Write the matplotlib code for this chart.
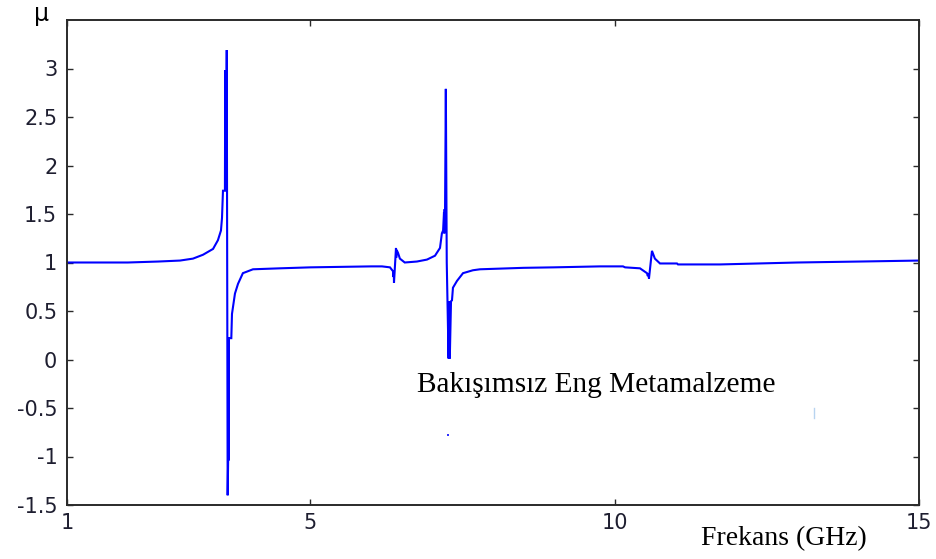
import matplotlib
matplotlib.use("Agg")
import matplotlib.pyplot as plt

plt.rcParams['axes.unicode_minus'] = False

# Frequency (GHz) and permeability
freq = [1.0, 1.5, 2.0, 2.5, 2.857, 3.07, 3.235, 3.40, 3.48, 3.53, 3.547, 3.563,
        3.595, 3.600, 3.605, 3.610, 3.615, 3.625, 3.640, 3.648, 3.652, 3.656,
        3.66, 3.70, 3.711, 3.76, 3.81, 3.89, 4.056, 4.5, 5.0, 5.5, 6.0,
        6.176, 6.307, 6.357, 6.365, 6.37, 6.373, 6.406, 6.41, 6.415, 6.439,
        6.47, 6.55, 6.75, 6.915, 7.047, 7.129, 7.16, 7.18, 7.195, 7.20, 7.205,
        7.21, 7.225, 7.24, 7.27, 7.275, 7.28, 7.285, 7.29, 7.31, 7.326, 7.342,
        7.408, 7.507, 7.67, 7.786, 8.5, 9.0, 9.758, 10.136, 10.17, 10.415,
        10.53, 10.545, 10.55, 10.563, 10.612, 10.66, 10.744, 11.023, 11.04,
        11.73, 13.0, 14.03, 15.0]
mu = [1.0, 1.0, 1.0, 1.01, 1.02, 1.04, 1.08, 1.14, 1.23, 1.33, 1.46, 1.74,
      1.74, 2.98, 1.78, 2.98, 1.80, 3.19, -1.40, -1.04, 0.23, -1.04,
      0.22, 0.22, 0.47, 0.68, 0.78, 0.89, 0.93, 0.94, 0.95, 0.955, 0.96,
      0.96, 0.95, 0.91, 0.85, 0.90, 0.79, 1.15, 1.05, 1.13, 1.10,
      1.04, 1.00, 1.01, 1.03, 1.07, 1.15, 1.30, 1.33, 1.52, 1.30, 1.55,
      1.35, 2.79, 1.00, 0.01, 0.60, 0.02, 0.60, 0.01, 0.60, 0.61, 0.74,
      0.81, 0.89, 0.92, 0.93, 0.945, 0.95, 0.96, 0.96, 0.95, 0.94,
      0.89, 0.86, 0.89, 0.835, 1.12, 1.04, 0.99, 0.99, 0.98,
      0.98, 1.00, 1.01, 1.02]

# stray marks visible in the reference
stray_dot_x = [7.26]
stray_dot_y = [-0.78]
stray_line_x = [13.27, 13.27]
stray_line_y = [-0.50, -0.60]

xticks = [1, 5, 10, 15]
yticks = [-1.5, -1, -0.5, 0, 0.5, 1, 1.5, 2, 2.5, 3]
ytick_labels = ['-1.5', '-1', '-0.5', '0', '0.5', '1', '1.5', '2', '2.5', '3']

fig = plt.figure(figsize=(9.36, 5.59), dpi=100)
ax = fig.add_axes([67/936, 1-505/559, (919-67)/936, (505-20)/559])

ax.plot(freq, mu, color='#0000ff', lw=1.5, solid_joinstyle='miter')
ax.plot(stray_dot_x, stray_dot_y, 's', color='#3030ff', ms=1.8, mew=0)
ax.plot(stray_line_x, stray_line_y, color='#b8d4f0', lw=1.0)

ax.set_xlim(1, 15)
ax.set_ylim(-1.5, 3.5)
ax.set_xticks(xticks)
ax.set_xticklabels([str(t) for t in xticks])
ax.set_yticks(yticks)
ax.set_yticklabels(ytick_labels)

for s in ax.spines.values():
    s.set_color('#2a2a2a')
    s.set_linewidth(1.4)

ax.tick_params(direction='in', length=4, width=1.0, color='#2a2a2a',
               top=True, right=True, labelsize=15, labelcolor='#1e1e30')
ax.tick_params(axis='x', pad=6)
ax.tick_params(axis='y', pad=7)
for lab in ax.get_xticklabels() + ax.get_yticklabels():
    lab.set_family('DejaVu Sans')

fig.text(701/936, 1-545/559, 'Frekans (GHz)', family='Liberation Serif',
         fontsize=20, ha='left', va='baseline', color='black')
fig.text(417/936, 1-392/559, 'Bakışımsız Eng Metamalzeme', family='Liberation Serif',
         fontsize=21.2, ha='left', va='baseline', color='black')
fig.text(42/936, 1-21/559, 'μ', family='DejaVu Sans', fontsize=17,
         ha='center', va='baseline', color='black')

fig.savefig('out.png', dpi=100)
